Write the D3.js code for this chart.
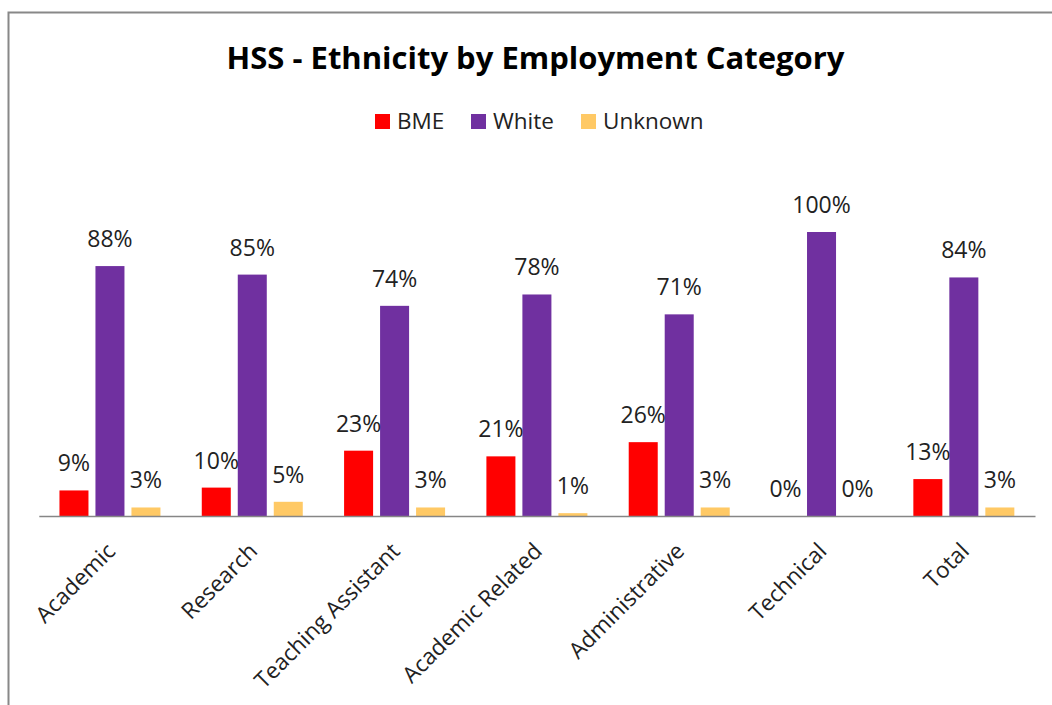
<!DOCTYPE html>
<html>
<head>
<meta charset="utf-8">
<script src="https://cdn.jsdelivr.net/npm/d3@7"></script>
<style>
  html, body { margin: 0; padding: 0; background: #fff; }
  svg { display: block; font-family: "Open Sans", "Noto Sans", sans-serif; }
</style>
</head>
<body>
<svg id="chart" width="1052" height="705"></svg>
<script>
// Share of staff by ethnicity within each employment category (%)
const categories = ["Academic", "Research", "Teaching Assistant", "Academic Related", "Administrative", "Technical", "Total"];
const seriesNames = ["BME", "White", "Unknown"];
const bme = [9, 10, 23, 21, 26, 0, 13];
const white = [88, 85, 74, 78, 71, 100, 84];
const unknown = [3, 5, 3, 1, 3, 0, 3];
const seriesColors = ["#FF0000", "#7030A0", "#FFC965"];

const seriesValues = [bme, white, unknown];
const rows = categories.map((c, i) => ({
  category: c,
  values: seriesNames.map((s, j) => ({ series: s, value: seriesValues[j][i] }))
}));

const svg = d3.select("#chart");

// outer frame of the chart area
svg.append("rect")
  .attr("x", 8.5).attr("y", 12.5)
  .attr("width", 1100).attr("height", 800)
  .attr("fill", "none").attr("stroke", "#888").attr("stroke-width", 2);

const plot = { left: 38.8, right: 1035, top: 232, bottom: 516 };

const x0 = d3.scaleBand().domain(categories).range([plot.left, plot.right]).padding(0);
const groupWidth = 101;
const x1 = d3.scaleBand().domain(seriesNames)
  .range([(x0.bandwidth() - groupWidth) / 2, (x0.bandwidth() + groupWidth) / 2])
  .paddingInner(0.194).paddingOuter(0);
const y = d3.scaleLinear().domain([0, 100]).range([plot.bottom, plot.top]);
const color = d3.scaleOrdinal().domain(seriesNames).range(seriesColors);

// title
svg.append("text")
  .attr("x", 535.5).attr("y", 69)
  .attr("text-anchor", "middle")
  .attr("font-size", 31).attr("font-weight", "bold")
  .attr("fill", "#000")
  .text("HSS - Ethnicity by Employment Category");

// legend
const legendItems = [
  { name: "BME", x: 375 },
  { name: "White", x: 471 },
  { name: "Unknown", x: 581 }
];
const legend = svg.append("g").selectAll("g").data(legendItems).join("g")
  .attr("transform", d => `translate(${d.x},114)`);
legend.append("rect").attr("width", 15).attr("height", 15).attr("fill", d => color(d.name));
legend.append("text").attr("x", 22).attr("y", 15)
  .attr("font-size", 22.5).attr("fill", "#222").text(d => d.name);

// bars
const groups = svg.append("g").selectAll("g").data(rows).join("g")
  .attr("transform", d => `translate(${x0(d.category)},0)`);

groups.selectAll("rect").data(d => d.values).join("rect")
  .attr("x", d => x1(d.series))
  .attr("width", x1.bandwidth())
  .attr("y", d => y(d.value))
  .attr("height", d => y(0) - y(d.value))
  .attr("fill", d => color(d.series));

// value labels
groups.selectAll("text").data(d => d.values).join("text")
  .attr("x", d => x1(d.series) + x1.bandwidth() / 2)
  .attr("y", d => y(d.value) - 19)
  .attr("text-anchor", "middle")
  .attr("font-size", 23).attr("fill", "#222")
  .text(d => d.value + "%");

// category axis
const xAxis = svg.append("g").attr("transform", `translate(0,${plot.bottom})`)
  .call(d3.axisBottom(x0).tickSize(0).tickPadding(0));
xAxis.select(".domain").attr("stroke", "#868686").attr("stroke-width", 1.5);
xAxis.selectAll(".tick text")
  .attr("font-family", "\"Open Sans\", sans-serif")
  .attr("font-size", 22.5).attr("fill", "#222")
  .attr("text-anchor", "end")
  .attr("dy", "0.35em")
  .attr("transform", "translate(1,31) rotate(-45)");
</script>
</body>
</html>
